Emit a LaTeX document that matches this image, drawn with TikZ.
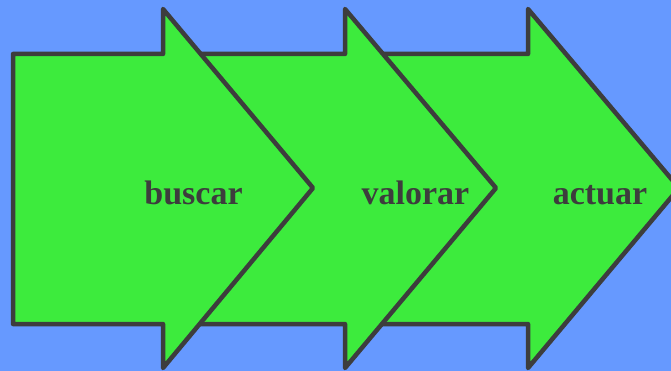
\documentclass[tikz,border=0pt]{standalone}
\usepackage{fontspec}
\setmainfont{Liberation Serif}
\definecolor{bg}{HTML}{6699FF}
\definecolor{fillg}{HTML}{3DEB3D}
\definecolor{edge}{HTML}{3D3D3D}
\tikzset{
  arrowshape/.style={fill=fillg, draw=edge, line width=4.5pt, line join=round},
  label/.style={font=\bfseries\fontsize{34}{34}\selectfont, text=edge, anchor=base, inner sep=0pt}
}
\begin{document}
\begin{tikzpicture}[x=1pt,y=-1pt]
\fill[bg] (0,0) rectangle (671,371);
\useasboundingbox (0,0) rectangle (671,371);
\begin{scope}
\clip (0,0) rectangle (671,371);
\draw[arrowshape] (380,54) -- (528,54) -- (528,9) -- (679,188) -- (528,368) -- (528,324) -- (380,324) -- cycle;
\draw[arrowshape] (195,54) -- (345,54) -- (345,9) -- (496,188) -- (345,368) -- (345,324) -- (195,324) -- cycle;
\draw[arrowshape] (13,54) -- (163,54) -- (163,9) -- (313,188) -- (163,368) -- (163,324) -- (13,324) -- cycle;
\end{scope}
\node[label] (t1) at (193.5,205) {buscar};
\node[label] (t2) at (415.5,205) {valorar};
\node[label] (t3) at (600,205) {actuar};
\end{tikzpicture}
\end{document}
